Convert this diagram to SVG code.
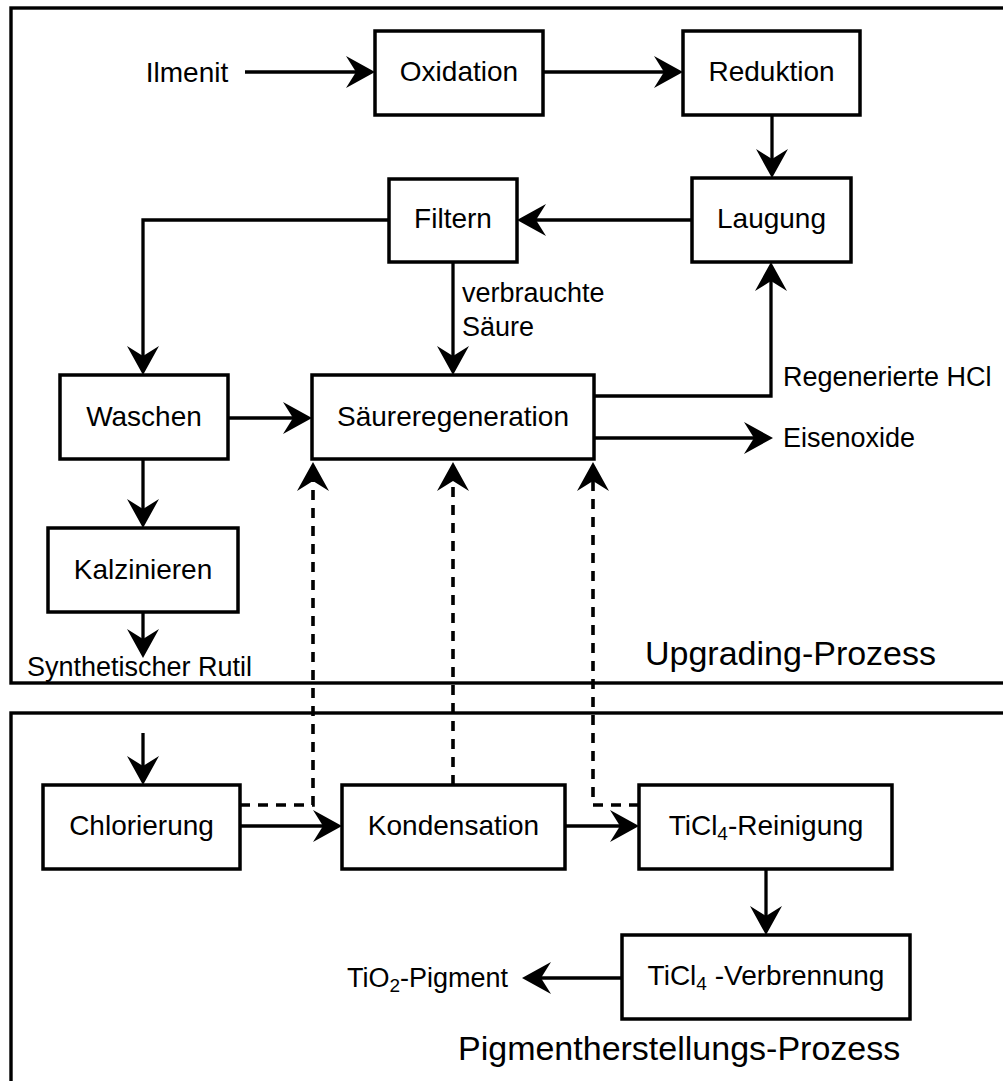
<svg xmlns="http://www.w3.org/2000/svg" width="1003" height="1081" viewBox="0 0 1003 1081">
<style>
text{font-family:"Liberation Sans",Arial,sans-serif;fill:#000}
.n{font-size:28px;text-anchor:middle}
.l{font-size:27px}
.t{font-size:34px}
.box{fill:#fff;stroke:#000;stroke-width:3.5}
.frame{fill:none;stroke:#000;stroke-width:3.4}
.c{fill:none;stroke:#000;stroke-width:3.3;marker-end:url(#ah)}
.d{stroke-width:3.6;stroke-dasharray:10 8}
</style>
<defs>
<marker id="ah" viewBox="0 0 30 32" markerWidth="30" markerHeight="32" refX="18" refY="16" orient="auto" markerUnits="userSpaceOnUse">
<path d="M29,16 L0,0 L10,16 L0,32 Z" fill="#000" stroke="none"/>
</marker>
</defs>
<rect class="frame" x="11" y="8" width="1010" height="675"/>
<rect class="frame" x="11" y="713" width="1010" height="420"/>
<g id="connectors">
<path class="c" d="M245,72 H364"/>
<path class="c" d="M543,72 H672"/>
<path class="c" d="M772,115 V167"/>
<path class="c" d="M692,220 H528"/>
<path class="c" d="M389,220 H143 V364"/>
<path class="c" d="M453,262 V364"/>
<path class="c" d="M228,418 H301"/>
<path class="c" d="M143,459 V517"/>
<path class="c" d="M143,612 V647"/>
<path class="c" d="M594,396 H771 V273"/>
<path class="c" d="M594,438 H762"/>
<path class="c d" d="M240,805 H313 V473"/>
<path class="c d" d="M453,785 V473"/>
<path class="c d" d="M639,805 H593 V473"/>
<path class="c" d="M143,733 V774"/>
<path class="c" d="M240,826 H331"/>
<path class="c" d="M565,826 H628"/>
<path class="c" d="M766,869 V924"/>
<path class="c" d="M622,978 H533"/>
</g>
<g id="oxidation"><rect class="box" x="375" y="31" width="168" height="84"/><text class="n" x="459" y="81">Oxidation</text></g>
<g id="reduktion"><rect class="box" x="683" y="31" width="177" height="84"/><text class="n" x="771.5" y="81">Reduktion</text></g>
<g id="filtern"><rect class="box" x="389" y="179" width="128" height="83"/><text class="n" x="453" y="228">Filtern</text></g>
<g id="laugung"><rect class="box" x="692" y="178" width="159" height="84"/><text class="n" x="771.5" y="228">Laugung</text></g>
<g id="waschen"><rect class="box" x="60" y="375" width="168" height="84"/><text class="n" x="144" y="426">Waschen</text></g>
<g id="saeureregeneration"><rect class="box" x="312" y="375" width="282" height="84"/><text class="n" x="453" y="426">Säureregeneration</text></g>
<g id="kalzinieren"><rect class="box" x="48" y="528" width="190" height="84"/><text class="n" x="143" y="579">Kalzinieren</text></g>
<g id="chlorierung"><rect class="box" x="43" y="785" width="197" height="84"/><text class="n" x="141.5" y="835">Chlorierung</text></g>
<g id="kondensation"><rect class="box" x="342" y="785" width="223" height="84"/><text class="n" x="453.5" y="835">Kondensation</text></g>
<g id="ticl4-reinigung"><rect class="box" x="639" y="785" width="253" height="84"/><text class="n" x="766" y="835">TiCl<tspan font-size="19" dy="5">4</tspan><tspan dy="-5">-Reinigung</tspan></text></g>
<g id="ticl4-verbrennung"><rect class="box" x="622" y="935" width="288" height="84"/><text class="n" x="766" y="985">TiCl<tspan font-size="19" dy="5">4</tspan><tspan dy="-5"> -Verbrennung</tspan></text></g>
<g id="labels">
<text class="n" x="187" y="82">Ilmenit</text>
<text class="l" x="462" y="302">verbrauchte</text>
<text class="l" x="462" y="336">Säure</text>
<text class="l" x="783" y="386">Regenerierte HCl</text>
<text class="l" x="783" y="447">Eisenoxide</text>
<text class="l" x="27" y="676">Synthetischer Rutil</text>
<text class="l" x="347" y="987">TiO<tspan font-size="19" dy="5">2</tspan><tspan dy="-5">-Pigment</tspan></text>
<text class="t" x="645" y="665">Upgrading-Prozess</text>
<text class="t" x="458" y="1060">Pigmentherstellungs-Prozess</text>
</g>
</svg>
